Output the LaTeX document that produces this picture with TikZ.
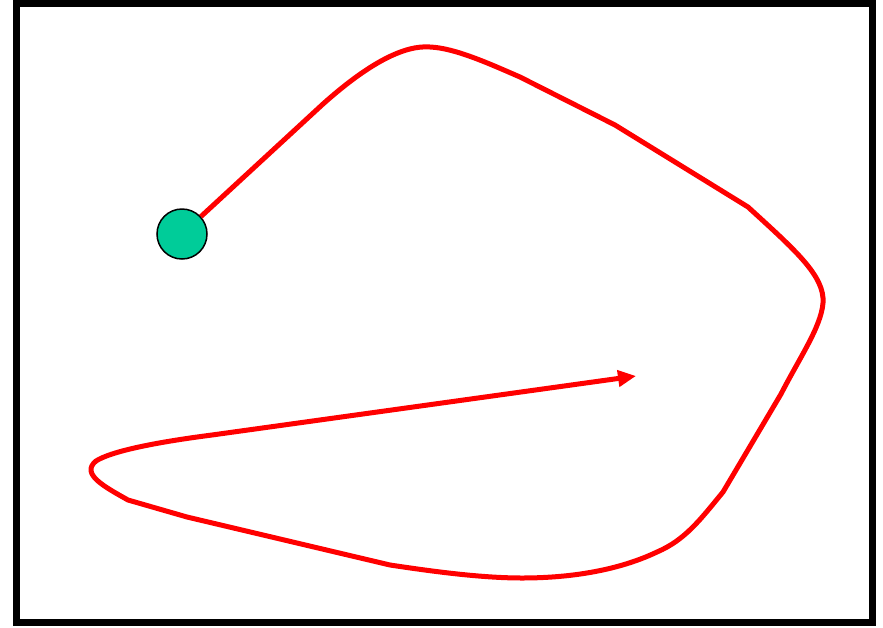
\documentclass[tikz,border=0pt]{standalone}
\usetikzlibrary{arrows.meta}
\definecolor{dotgreen}{HTML}{00CC99}
\tikzset{
  frame/.style={draw=black, line width=7pt},
  startdot/.style={circle, draw=black, line width=1.5pt, fill=dotgreen, minimum size=50pt, inner sep=0pt},
  route/.style={draw=red, line width=5pt, line join=round, -{Triangle[length=18pt,width=16pt]}}
}
\begin{document}
\begin{tikzpicture}[x=1pt,y=-1pt]
\useasboundingbox (0,0) rectangle (883,627);
\fill[white] (0,0) rectangle (883,627);
\draw[frame] (16.5,3.5) rectangle (872.5,622);
\node[startdot] (start) at (182,234) {};
\coordinate (end) at (636,376);
\draw[route] (start) -- (323,104)
  .. controls (370,62) and (405,45) .. (430,47)
  .. controls (455,48) and (490,64) .. (520,77)
  -- (615,125) -- (748,207)
  .. controls (795,250) and (825,276) .. (823,303)
  .. controls (821,327) and (800,357) .. (781,394)
  -- (723,492)
  .. controls (700,520) and (685,540) .. (657,552)
  .. controls (615,572) and (565,578) .. (522,578)
  .. controls (480,578) and (430,571) .. (390,565)
  -- (187,517) -- (128,500)
  .. controls (105,487) and (80,474) .. (96,461)
  .. controls (110,452) and (150,443) .. (212,435)
  -- (end);
\end{tikzpicture}
\end{document}
